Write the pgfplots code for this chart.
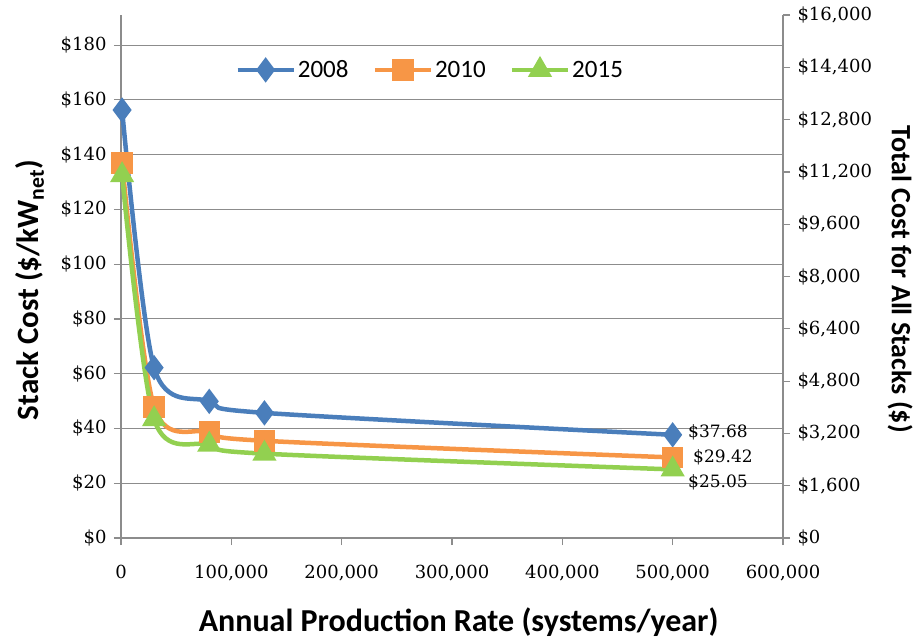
\documentclass[border=0pt]{standalone}
\usepackage{pgfplots}
\pgfplotsset{compat=1.18}
\usepackage{fontspec}
\setmainfont{DejaVu Serif}
\newfontfamily\calfont{Carlito}
\newcommand\tickfont{\fontsize{18}{21}\selectfont}
\definecolor{c08}{HTML}{4A7EBB}
\definecolor{c10}{HTML}{F79646}
\definecolor{c15}{HTML}{92D050}
\definecolor{gridc}{HTML}{8C8C8C}
\begin{document}
\begin{tikzpicture}
\useasboundingbox (-121pt,-103pt) rectangle (796pt,538pt);
\begin{axis}[
  scale only axis, width=662pt, height=523pt,
  at={(0,0)}, anchor=south west,
  xmin=0, xmax=600000, ymin=0, ymax=191,
  axis x line*=bottom, axis y line*=left,
  axis line style={gridc, line width=1.2pt},
  tick style={gridc, line width=1.2pt},
  tick align=outside, major tick length=7pt,
  xtick={0,100000,...,600000}, ytick={0,20,...,180},
  ymajorgrids, grid style={gridc, line width=1.1pt},
  scaled x ticks=false, scaled y ticks=false,
  /pgf/number format/assume math mode=true,
  tick label style={font=\tickfont},
  xticklabel={\tickfont\pgfmathprintnumber[fixed,precision=0,1000 sep={,}]{\tick}},
  x tick label style={yshift=-17pt},
  yticklabel={\tickfont\$\pgfmathprintnumber[fixed,precision=0]{\tick}},
  y tick label style={xshift=-4pt},
  xlabel={Annual Production Rate (systems/year)},
  xlabel style={font=\calfont\bfseries\fontsize{32}{38}\selectfont, at={(axis description cs:0.51,-0.16)}, anchor=center},
  ylabel={Stack Cost (\$/kW\textsubscript{net})},
  ylabel style={font=\calfont\bfseries\fontsize{31}{36}\selectfont, at={(axis description cs:-0.1375,0.474)}, anchor=center},
  every axis plot/.append style={line width=4.5pt, smooth, tension=0.5},
  legend columns=3,
  legend style={at={(0.467,0.895)}, anchor=center, draw=none, fill=none,
    font=\calfont\fontsize{25}{30}\selectfont,
    /tikz/every even column/.append style={column sep=22pt}},
  legend image code/.code={\draw[mark repeat=2, mark phase=2] plot coordinates {(0pt,0pt) (28pt,0pt) (56pt,0pt)};},
]
\addplot[c08, mark=diamond*, mark size=9pt, mark options={solid}] coordinates {
  (1000,156.3) (30000,62.2) (80000,49.9) (130000,45.7) (500000,37.68)};
\addlegendentry{2008}
\addplot[c10, mark=square*, mark size=8.5pt] coordinates {
  (1000,137.0) (30000,47.8) (80000,38.8) (130000,35.5) (500000,29.42)};
\addlegendentry{2010}
\addplot[c15, mark=triangle*, mark size=9.5pt] coordinates {
  (1000,132.5) (30000,43.4) (80000,34.1) (130000,30.8) (500000,25.05)};
\addlegendentry{2015}
\node[anchor=west, font=\fontsize{17}{20}\selectfont, xshift=12pt, yshift=3pt] at (axis cs:500000,37.68) {\$37.68};
\node[anchor=west, font=\fontsize{17}{20}\selectfont, xshift=17pt] at (axis cs:500000,29.42) {\$29.42};
\node[anchor=west, font=\fontsize{17}{20}\selectfont, xshift=12pt, yshift=-13pt] at (axis cs:500000,25.05) {\$25.05};
\end{axis}
\begin{axis}[
  scale only axis, width=662pt, height=523pt,
  at={(0,0)}, anchor=south west,
  xmin=0, xmax=600000, ymin=0, ymax=16000,
  hide x axis, axis y line*=right,
  axis line style={gridc, line width=1.2pt},
  tick style={gridc, line width=1.2pt},
  tick align=outside, major tick length=7pt,
  ytick={0,1600,...,16000},
  scaled y ticks=false,
  /pgf/number format/assume math mode=true,
  tick label style={font=\tickfont},
  yticklabel={\tickfont\$\pgfmathprintnumber[fixed,precision=0,1000 sep={,}]{\tick}},
  y tick label style={xshift=4pt},
  ylabel={Total Cost for All Stacks (\$)},
  ylabel style={font=\calfont\bfseries\fontsize{28}{34}\selectfont, at={(axis description cs:1.177,0.495)}, anchor=center, rotate=180},
]
\addplot[draw=none] coordinates {(0,0)};
\end{axis}
\end{tikzpicture}
\end{document}
